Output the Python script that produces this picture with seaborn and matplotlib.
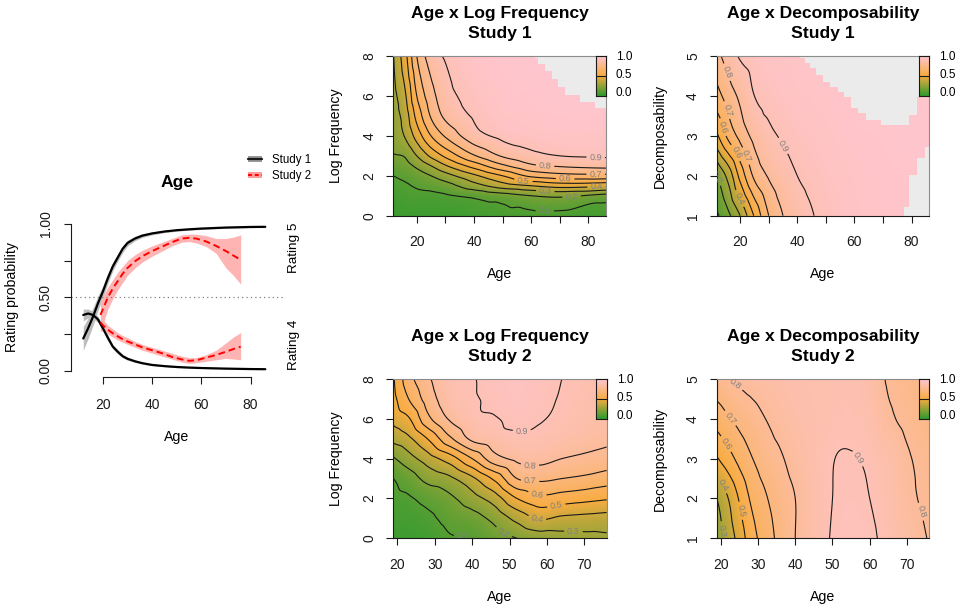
import numpy as np
import matplotlib
matplotlib.use("Agg")
import matplotlib.pyplot as plt
import matplotlib.tri as mtri
from matplotlib.colors import LinearSegmentedColormap
from matplotlib.lines import Line2D
from matplotlib.patches import Patch
from matplotlib.transforms import blended_transform_factory
import seaborn as sns

# --- Left panel: rating probability by age ---
s1_age = [12, 14, 16, 18, 20, 22, 24, 26, 28, 30, 33, 36, 40, 45, 50, 55, 60, 70, 80, 86]
s1_r5 = [.22, .29, .37, .46, .54, .63, .71, .77, .83, .87, .90, .92, .935, .948, .957, .963, .968, .975, .979, .98]
s1_r5_lo = [.14, .22, .31, .41, .50, .595, .68, .745, .805, .85, .885, .908, .925, .940, .950, .957, .962, .970, .974, .975]
s1_r5_hi = [.30, .36, .43, .51, .58, .665, .74, .795, .85, .89, .915, .932, .945, .956, .964, .969, .974, .980, .984, .985]
s1_r4 = [.38, .39, .38, .35, .29, .225, .165, .13, .10, .082, .065, .052, .04, .032, .026, .022, .019, .015, .012, .011]
s1_r4_lo = [.34, .36, .355, .33, .27, .205, .15, .115, .088, .072, .057, .046, .035, .028, .022, .019, .016, .012, .010, .009]
s1_r4_hi = [.42, .42, .405, .37, .31, .245, .18, .145, .112, .092, .073, .058, .045, .036, .030, .025, .022, .018, .014, .013]

s2_age = [19, 20, 22, 24, 26, 28, 30, 33, 36, 40, 44, 48, 52, 55, 58, 62, 66, 70, 73, 76]
s2_r5 = [.38, .42, .50, .56, .61, .66, .70, .745, .78, .815, .845, .875, .90, .905, .90, .88, .85, .815, .785, .755]
s2_r5_lo = [.27, .32, .42, .49, .55, .60, .65, .70, .74, .78, .815, .85, .875, .88, .87, .845, .80, .70, .65, .59]
s2_r5_hi = [.47, .51, .57, .62, .67, .71, .75, .79, .82, .85, .875, .90, .925, .93, .93, .92, .90, .90, .91, .925]
s2_r4 = [.33, .31, .28, .255, .235, .215, .20, .18, .16, .14, .12, .095, .078, .068, .072, .09, .108, .13, .148, .164]
s2_r4_lo = [.27, .27, .25, .23, .21, .195, .18, .16, .14, .12, .10, .08, .06, .05, .055, .065, .075, .085, .08, .075]
s2_r4_hi = [.37, .35, .31, .285, .26, .24, .225, .20, .18, .16, .14, .12, .10, .09, .09, .11, .14, .19, .23, .26]

study_labels = ["Study 1", "Study 2"]
rating_labels = ["Rating 5", "Rating 4"]
key_labels = ["0.0", "0.5", "1.0"]

# --- Surfaces: one row per age, values along the second variable ---
a_age = [11.8, 16, 20, 25, 30, 40, 50, 60, 70, 86.2]
a_lf = [0, 1, 1.5, 2, 2.5, 3, 4, 5, 6, 8]
a_prob = [
    [.03, .06, .08, .10, .14, .19, .23, .245, .265, .295],
    [.04, .07, .09, .12, .165, .21, .31, .35, .39, .47],
    [.04, .08, .11, .15, .22, .30, .44, .53, .60, .70],
    [.04, .08, .13, .20, .30, .42, .60, .71, .76, .85],
    [.04, .09, .16, .26, .39, .52, .71, .82, .86, .91],
    [.05, .12, .26, .38, .54, .69, .86, .91, .93, .96],
    [.06, .16, .35, .50, .68, .81, .92, .95, .96, .975],
    [.07, .20, .40, .62, .78, .87, .94, .96, .97, .985],
    [.07, .22, .44, .66, .81, .90, .95, .97, .98, .99],
    [.05, .17, .42, .67, .83, .91, .95, .97, .98, .99],
]
a_na_age = [61.4, 62.5, 64.9, 67.2, 69.5, 71.9, 77.1, 82.3, 86.2]
a_na_top = [7.9, 7.6, 7.25, 6.85, 6.45, 6.05, 5.7, 5.4, 5.4]

b_age = [11.8, 16, 20, 25, 30, 35, 40, 45, 50, 60, 70, 86.2]
b_dec = [1, 2, 3, 4, 5]
b_prob = [
    [.08, .20, .48, .66, .77],
    [.18, .34, .63, .75, .85],
    [.30, .53, .73, .82, .91],
    [.51, .72, .83, .90, .935],
    [.70, .81, .88, .925, .95],
    [.80, .86, .91, .94, .955],
    [.86, .90, .93, .95, .96],
    [.895, .92, .94, .955, .965],
    [.92, .935, .95, .96, .97],
    [.95, .955, .965, .97, .975],
    [.96, .965, .97, .975, .98],
    [.97, .975, .98, .98, .985],
]
b_na_age = [40.8, 42.6, 44.3, 46.6, 48.9, 51.3, 54.2, 56.5, 58.8, 61.1, 64.0, 69.2, 79.1, 82.0, 86.2]
b_na_top = [4.94, 4.82, 4.69, 4.52, 4.36, 4.23, 4.11, 3.98, 3.69, 3.56, 3.40, 3.27, 3.52, 3.98, 3.98]
b_na_age2 = [77.3, 79.1, 82.0, 84.8, 86.2]
b_na_bottom = [1.23, 2.02, 2.44, 2.73, 2.73]

c_age = [18.9, 23, 28, 34, 40, 46, 52, 58, 64, 70, 76]
c_lf = [0, 1, 2, 3, 4, 5, 6, 7, 8]
c_prob = [
    [.04, .06, .08, .10, .19, .33, .43, .47, .49],
    [.04, .06, .09, .15, .26, .38, .49, .60, .66],
    [.05, .08, .13, .23, .35, .50, .67, .74, .78],
    [.09, .13, .18, .28, .45, .68, .81, .86, .88],
    [.10, .16, .26, .38, .60, .82, .875, .89, .895],
    [.15, .23, .35, .52, .76, .86, .895, .915, .925],
    [.20, .33, .50, .70, .82, .885, .915, .93, .935],
    [.24, .41, .57, .72, .83, .88, .905, .915, .92],
    [.26, .38, .55, .70, .80, .86, .885, .895, .90],
    [.27, .37, .53, .68, .78, .84, .865, .875, .88],
    [.28, .36, .51, .65, .76, .82, .845, .855, .86],
]

d_age = [18.9, 22, 25, 28, 32, 36, 40, 45, 50, 55, 60, 65, 70, 76]
d_dec = [1, 2, 3, 4, 5]
d_prob = [
    [.24, .30, .49, .64, .77],
    [.34, .40, .56, .69, .80],
    [.44, .51, .63, .73, .82],
    [.55, .61, .69, .76, .835],
    [.65, .69, .75, .80, .85],
    [.73, .75, .79, .83, .86],
    [.80, .80, .83, .855, .87],
    [.86, .86, .87, .87, .875],
    [.905, .90, .898, .88, .88],
    [.915, .91, .903, .885, .88],
    [.91, .90, .89, .87, .855],
    [.88, .87, .86, .815, .79],
    [.84, .82, .81, .78, .76],
    [.795, .78, .77, .74, .72],
]

# --- Style ---
sns.set_theme(style="ticks")
plt.rcParams["font.family"] = ["Liberation Sans", "DejaVu Sans"]
plt.rcParams.update({
    "axes.linewidth": 0.8,
    "text.color": "black",
    "axes.labelcolor": "black",
    "axes.titlecolor": "black",
    "xtick.color": "black",
    "ytick.color": "black",
    "xtick.labelcolor": "black",
    "ytick.labelcolor": "black",
})

cmap = LinearSegmentedColormap.from_list("gop", ["#2f9b2f", "#f8ac40", "#ffc6d3"])
NA_GREY = "#ebebeb"

fig = plt.figure(figsize=(9.57, 6.13), dpi=100)


def px_axes(x0, x1, y0, y1):
    W, H = 957.0, 613.0
    return fig.add_axes([x0 / W, 1 - y1 / H, (x1 - x0) / W, (y1 - y0) / H])


def r_ticks(ax, xticks, xlabels, yticks, ylabels, xpad=9, ypad=7):
    ax.set_xticks(xticks)
    ax.set_xticklabels(xlabels)
    ax.set_yticks(yticks)
    ax.set_yticklabels(ylabels, rotation=90, va="center")
    ax.tick_params(axis="x", direction="out", length=5, width=0.8, pad=xpad, labelsize=10, colors="k")
    ax.tick_params(axis="y", direction="out", length=5, width=0.8, pad=ypad, labelsize=10, colors="k")


def draw_surface(ax, ages, ys, prob, xlim, ylim, label_pos):
    z = np.asarray(prob, dtype=float)
    xx, yy = np.meshgrid(ages, ys, indexing="ij")
    u = (xx - xlim[0]) / (xlim[1] - xlim[0])
    v = (yy - ylim[0]) / (ylim[1] - ylim[0])
    na, ny = z.shape
    idx = np.arange(na * ny).reshape(na, ny)
    tris = []
    for i in range(na - 1):
        for j in range(ny - 1):
            a, b, c, d = idx[i, j], idx[i + 1, j], idx[i + 1, j + 1], idx[i, j + 1]
            tris += [[a, b, c], [a, c, d]]
    tri = mtri.Triangulation(u.ravel(), v.ravel(), tris)
    interp = mtri.CubicTriInterpolator(tri, z.ravel(), kind="geom")
    tri_f, z_f = mtri.UniformTriRefiner(tri).refine_field(z.ravel(), triinterpolator=interp, subdiv=4)
    z_f = np.clip(z_f, 0, 1)
    tri_d = mtri.Triangulation(xlim[0] + tri_f.x * (xlim[1] - xlim[0]),
                               ylim[0] + tri_f.y * (ylim[1] - ylim[0]), tri_f.triangles)
    ax.tripcolor(tri_d, z_f, cmap=cmap, vmin=0, vmax=1, shading="gouraud", rasterized=True, zorder=1)
    cs = ax.tricontour(tri_d, z_f, levels=np.round(np.arange(0.1, 0.95, 0.1), 1), colors="k", linewidths=0.8, zorder=2)
    ax.clabel(cs, fmt="%.1f", fontsize=6.5, colors="#808080", inline=True, inline_spacing=3, manual=label_pos)
    ax.set_xlim(xlim)
    ax.set_ylim(ylim)
    for side in ["top", "right"]:
        ax.spines[side].set_color("#8c8c8c")
    for side in ["left", "bottom"]:
        ax.spines[side].set_color("k")


def draw_key(ax):
    cax = ax.inset_axes([0.952, 0.749, 0.048, 0.251])
    cax.imshow(np.linspace(0, 1, 64)[:, None], cmap=cmap, aspect="auto", origin="lower", extent=[0, 1, 0, 1])
    cax.axhline(0.5, color="k", lw=0.8)
    cax.set_xticks([])
    cax.set_yticks([])
    for s in cax.spines.values():
        s.set_color("k")
        s.set_linewidth(0.8)
        s.set_visible(True)
    for lab, yy in zip(key_labels, [0.766, 0.881, 0.996]):
        ax.text(1.047, yy, lab, transform=ax.transAxes, ha="left", va="center", fontsize=8.5)


TITLE_KW = dict(fontsize=12.6, fontweight="bold", linespacing=1.42, pad=13)

# --- Left panel ---
ax0 = px_axes(70.7, 283, 218, 376.7)
ax0.fill_between(s1_age, s1_r5_lo, s1_r5_hi, color="#bdbdbd", lw=0)
ax0.fill_between(s1_age, s1_r4_lo, s1_r4_hi, color="#bdbdbd", lw=0)
ax0.fill_between(s2_age, s2_r5_lo, s2_r5_hi, color="#ffb4b4", lw=0)
ax0.fill_between(s2_age, s2_r4_lo, s2_r4_hi, color="#ffb4b4", lw=0)
ax0.axhline(0.5, color="#808080", lw=0.9, ls=(0, (1, 2.5)))
sns.lineplot(x=s1_age, y=s1_r5, ax=ax0, color="black", lw=1.6)
sns.lineplot(x=s1_age, y=s1_r4, ax=ax0, color="black", lw=1.6)
sns.lineplot(x=s2_age, y=s2_r5, ax=ax0, color="#ff0000", lw=1.4, linestyle=(0, (3.5, 2)))
sns.lineplot(x=s2_age, y=s2_r4, ax=ax0, color="#ff0000", lw=1.4, linestyle=(0, (3.5, 2)))
ax0.set_xlim(6.9, 93.2)
ax0.set_ylim(-0.04, 1.04)
r_ticks(ax0, [20, 40, 60, 80], ["20", "40", "60", "80"],
        [0, 0.25, 0.5, 0.75, 1.0], ["0.00", "", "0.50", "", "1.00"], xpad=10, ypad=8)
sns.despine(ax=ax0)
ax0.spines["bottom"].set_bounds(20, 80)
ax0.spines["left"].set_bounds(0, 1)
ax0.spines["bottom"].set_color("k")
ax0.spines["left"].set_color("k")
ax0.set_xlabel("Age", fontsize=10.2, labelpad=13)
ax0.set_ylabel("Rating probability", fontsize=10.2, labelpad=14)
ax0.set_title("Age", fontsize=12.6, fontweight="bold", pad=22)
tr = blended_transform_factory(ax0.transAxes, ax0.transData)
for lab, yy in zip(rating_labels, [0.836, 0.175]):
    ax0.text(1.05, yy, lab, transform=tr, rotation=90, ha="center", va="center", fontsize=9.7)

h1 = (Patch(facecolor="#9a9a9a", edgecolor="none"), Line2D([], [], color="k", lw=1.6))
h2 = (Patch(facecolor="#ff9c9c", edgecolor="none"), Line2D([], [], color="#ff0000", lw=1.4, ls=(0, (2, 1.5))))
fig.legend([h1, h2], study_labels, loc="upper left", bbox_to_anchor=(0.259, 0.749), frameon=False,
           fontsize=8.3, handlelength=1.2, handleheight=0.45, handletextpad=0.9, labelspacing=0.35,
           borderpad=0, borderaxespad=0)

# --- Surface panels ---
axA = px_axes(393.3, 606, 56, 215.7)
draw_surface(axA, a_age, a_lf, a_prob, (11.8, 86.2), (0, 8),
             [(82.6, 2.9), (64.9, 2.5), (82.6, 2.12), (71.9, 1.85), (57.3, 1.75), (82.9, 1.49),
              (64.9, 1.15), (74.2, 0.9), (64.9, 0.45)])
axA.fill_between(a_na_age, a_na_top, 8, step="post", color=NA_GREY, lw=0, zorder=2.5)
r_ticks(axA, list(range(20, 90, 10)), ["20", "", "40", "", "60", "", "80"],
        [0, 2, 4, 6, 8], ["0", "2", "4", "6", "8"])
axA.set_xlabel("Age", fontsize=10.2, labelpad=13)
axA.set_ylabel("Log Frequency", fontsize=10.2, labelpad=14)
axA.set_title("Age x Log Frequency\nStudy 1", **TITLE_KW)
draw_key(axA)

axB = px_axes(716.7, 929.3, 56, 215.7)
draw_surface(axB, b_age, b_dec, b_prob, (11.8, 86.2), (1, 5),
             [(34.5, 2.73), (15.6, 4.6), (22.9, 2.52), (15.6, 3.65), (18.3, 2.57), (13.1, 3.2),
              (18.9, 1.40), (13.1, 2.0)])
axB.fill_between(b_na_age, b_na_top, 5, step="post", color=NA_GREY, lw=0, zorder=2.5)
axB.fill_between(b_na_age2, 1, b_na_bottom, step="post", color=NA_GREY, lw=0, zorder=2.5)
r_ticks(axB, list(range(20, 90, 10)), ["20", "", "40", "", "60", "", "80"],
        [1, 2, 3, 4, 5], ["1", "2", "3", "4", "5"])
axB.set_xlabel("Age", fontsize=10.2, labelpad=13)
axB.set_ylabel("Decomposability", fontsize=10.2, labelpad=14)
axB.set_title("Age x Decomposability\nStudy 1", **TITLE_KW)
draw_key(axB)

axC = px_axes(393.3, 606.7, 379, 538.3)
draw_surface(axC, c_age, c_lf, c_prob, (18.9, 76.0), (0, 8),
             [(53.3, 5.4), (55.5, 3.73), (55.5, 2.84), (57.3, 2.09), (62.6, 1.59), (57.3, 0.92),
              (67.1, 0.42), (48.3, 0.25), (37.6, 0.17)])
r_ticks(axC, list(range(20, 80, 10)), ["20", "30", "40", "50", "60", "70"],
        [0, 2, 4, 6, 8], ["0", "2", "4", "6", "8"])
axC.set_xlabel("Age", fontsize=10.2, labelpad=13)
axC.set_ylabel("Log Frequency", fontsize=10.2, labelpad=14)
axC.set_title("Age x Log Frequency\nStudy 2", **TITLE_KW)
draw_key(axC)

axD = px_axes(716.7, 929.3, 379, 538.3)
draw_surface(axD, d_age, d_dec, d_prob, (18.9, 76.0), (1, 5),
             [(23.1, 4.77), (21.3, 3.93), (20.9, 3.34), (25.8, 1.7), (20.5, 2.34), (21.3, 1.21),
              (54.2, 2.86), (72.5, 1.64)])
r_ticks(axD, list(range(20, 80, 10)), ["20", "30", "40", "50", "60", "70"],
        [1, 2, 3, 4, 5], ["1", "2", "3", "4", "5"])
axD.set_xlabel("Age", fontsize=10.2, labelpad=13)
axD.set_ylabel("Decomposability", fontsize=10.2, labelpad=14)
axD.set_title("Age x Decomposability\nStudy 2", **TITLE_KW)
draw_key(axD)

fig.savefig("out.png", dpi=100)
